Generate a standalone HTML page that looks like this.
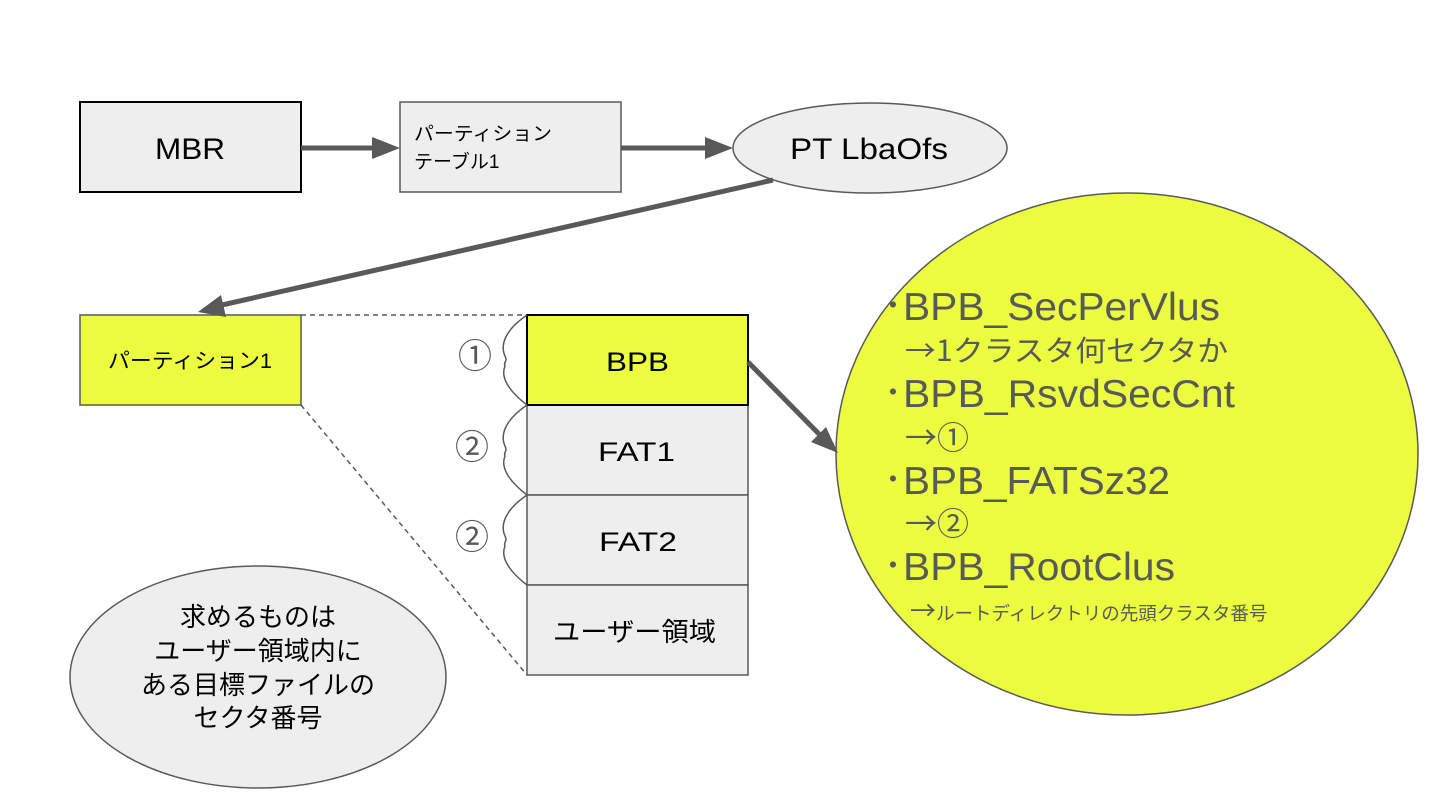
<!DOCTYPE html>
<html><head><meta charset="utf-8"><style>
html,body{margin:0;padding:0;background:#fff;}
svg{display:block;}
text{font-family:"Liberation Sans","Noto Sans CJK JP",sans-serif;}
.j{font-family:"Noto Sans CJK JP",sans-serif;}
</style></head><body>
<svg width="1440" height="810" viewBox="0 0 1440 810" xmlns="http://www.w3.org/2000/svg">
<ellipse cx="1127" cy="454" rx="291" ry="261" fill="#ecfc3e" stroke="#595959" stroke-width="1.5"/>
<ellipse cx="258" cy="677" rx="188" ry="111" fill="#eeeeee" stroke="#595959" stroke-width="1.5"/>
<rect x="80" y="102" width="221" height="90" fill="#eeeeee" stroke="#000" stroke-width="2"/>
<text x="155" y="159" font-size="30" textLength="70" lengthAdjust="spacingAndGlyphs" fill="#000">MBR</text>
<rect x="400" y="102" width="221" height="90" fill="#eeeeee" stroke="#595959" stroke-width="1.5"/>
<text x="414" y="140" font-size="19" fill="#000" textLength="138" lengthAdjust="spacingAndGlyphs">パーティション</text>
<text x="414" y="168" font-size="19" fill="#000">テーブル1</text>
<ellipse cx="870" cy="148" rx="137" ry="45" fill="#eeeeee" stroke="#595959" stroke-width="1.5"/>
<text x="790" y="159" font-size="30" textLength="158" lengthAdjust="spacingAndGlyphs" fill="#000">PT LbaOfs</text>
<rect x="80" y="315" width="221" height="90" fill="#ecfc3e" stroke="#595959" stroke-width="1.5"/>
<text x="108" y="368" font-size="21" textLength="164" lengthAdjust="spacingAndGlyphs" fill="#000">パーティション1</text>
<line x1="301" y1="315" x2="527" y2="315" stroke="#595959" stroke-width="1.5" stroke-dasharray="5,4"/>
<line x1="301" y1="405" x2="527" y2="675" stroke="#595959" stroke-width="1.5" stroke-dasharray="5,4"/>
<rect x="527" y="405" width="221" height="90" fill="#eeeeee" stroke="#595959" stroke-width="1.5"/>
<rect x="527" y="495" width="221" height="90" fill="#eeeeee" stroke="#595959" stroke-width="1.5"/>
<rect x="527" y="585" width="221" height="90" fill="#eeeeee" stroke="#595959" stroke-width="1.5"/>
<rect x="527" y="315" width="221" height="90" fill="#ecfc3e" stroke="#000" stroke-width="2"/>
<text x="606" y="371" font-size="27" textLength="63" lengthAdjust="spacingAndGlyphs" fill="#000">BPB</text>
<text x="598" y="461" font-size="27" textLength="77" lengthAdjust="spacingAndGlyphs" fill="#000">FAT1</text>
<text x="599" y="551" font-size="27" textLength="78" lengthAdjust="spacingAndGlyphs" fill="#000">FAT2</text>
<text x="553" y="641" font-size="26" textLength="163" lengthAdjust="spacingAndGlyphs" fill="#000">ユーザー領域</text>
<g fill="none" stroke="#595959" stroke-width="1.5">
<path d="M527,315 C505,330 500,345 505,356 C508,362 503,362 505,366 C500,378 510,392 527,405"/>
<path d="M527,405 C505,420 500,435 505,446 C508,452 503,452 505,456 C500,468 510,482 527,495"/>
<path d="M527,495 C505,510 500,525 505,536 C508,542 503,542 505,546 C500,558 510,572 527,585"/>
</g>
<text x="475" y="368" font-size="34" text-anchor="middle" fill="#595959" class="j">①</text>
<text x="472" y="459" font-size="34" text-anchor="middle" fill="#595959" class="j">②</text>
<text x="472" y="549" font-size="34" text-anchor="middle" fill="#595959" class="j">②</text>
<g stroke="#595959" stroke-width="5" fill="#595959">
<line x1="301" y1="148" x2="374" y2="148"/>
<line x1="621" y1="148" x2="706" y2="148"/>
<line x1="773" y1="180" x2="222" y2="305"/>
<line x1="748" y1="362" x2="820" y2="435"/>
</g>
<g fill="#595959">
<polygon points="400,148 372,137 372,159"/>
<polygon points="733,148 705,137 705,159"/>
<polygon points="198,312 221,295 226,317"/>
<polygon points="838,453 811,442 826,427"/>
</g>
<g fill="#595959">
<text x="884" y="318" font-size="36" class="j">･</text>
<text x="903" y="320" font-size="39" textLength="317" lengthAdjust="spacingAndGlyphs">BPB_SecPerVlus</text>
<text x="905" y="361" font-size="29" class="j" textLength="323" lengthAdjust="spacingAndGlyphs">→1クラスタ何セクタか</text>
<text x="884" y="405" font-size="36" class="j">･</text>
<text x="903" y="407" font-size="39" textLength="332" lengthAdjust="spacingAndGlyphs">BPB_RsvdSecCnt</text>
<text x="905" y="449" font-size="32" class="j">→①</text>
<text x="884" y="492" font-size="36" class="j">･</text>
<text x="903" y="494" font-size="39" textLength="267" lengthAdjust="spacingAndGlyphs">BPB_FATSz32</text>
<text x="905" y="535" font-size="32" class="j">→②</text>
<text x="884" y="578" font-size="36" class="j">･</text>
<text x="903" y="580" font-size="39" textLength="272" lengthAdjust="spacingAndGlyphs">BPB_RootClus</text>
<text x="910" y="620" font-size="26" class="j">→<tspan font-size="18.5">ルートディレクトリの先頭クラスタ番号</tspan></text>
</g>
<g fill="#000" font-size="26" text-anchor="middle">
<text x="258" y="626">求めるものは</text>
<text x="258" y="660">ユーザー領域内に</text>
<text x="258" y="694">ある目標ファイルの</text>
<text x="258" y="727">セクタ番号</text>
</g>
</svg>
</body></html>
